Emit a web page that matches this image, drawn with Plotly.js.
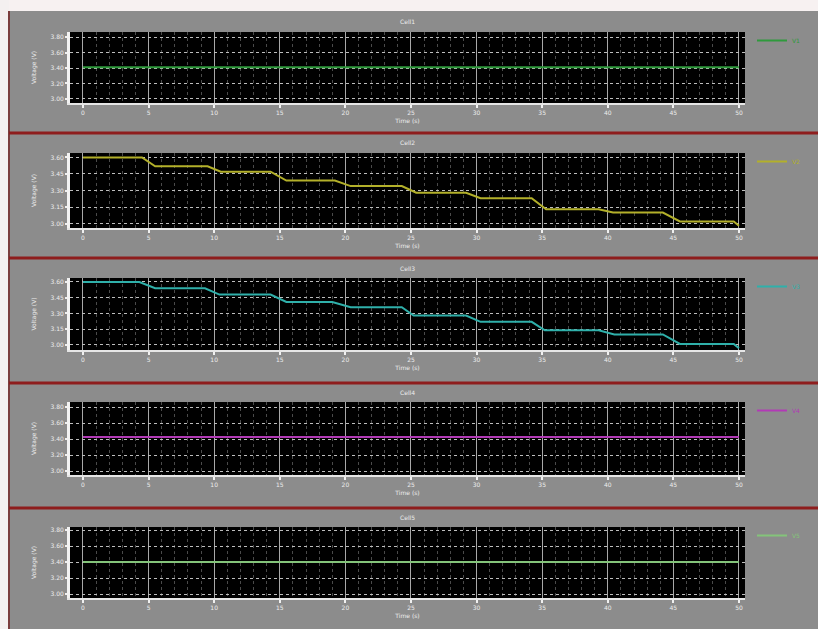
<!DOCTYPE html>
<html>
<head>
<meta charset="utf-8">
<script src="https://cdn.plot.ly/plotly-3.0.1.min.js"></script>
<style>html,body{margin:0;padding:0;background:#fff;}#chart{width:818px;height:629px;}</style>
</head>
<body>
<div id="chart"></div>
<script>
// ---- data ----
const panelTitles = ["Cell1", "Cell2", "Cell3", "Cell4", "Cell5"];
const seriesNames = ["V1", "V2", "V3", "V4", "V5"];
const xTickVals = [0, 5, 10, 15, 20, 25, 30, 35, 40, 45, 50];
const yTickVals = [3.0, 3.2, 3.4, 3.6, 3.8];
const yTickVals23 = [3.0, 3.15, 3.3, 3.45, 3.6];

const time1 = [0, 50];
const volt1 = [3.41, 3.41];

const time2 = [0, 4.5, 5.5, 9.5, 10.5, 14.3, 15.5, 19.2, 20.4, 24.3, 25.4, 29.2, 30.3, 34.2, 35.3, 39.3, 40.4, 44.2, 45.5, 49.6, 50];
const volt2 = [3.60, 3.60, 3.52, 3.52, 3.47, 3.47, 3.39, 3.39, 3.34, 3.34, 3.28, 3.28, 3.23, 3.23, 3.13, 3.13, 3.10, 3.10, 3.02, 3.02, 2.98];

const time3 = [0, 4.3, 5.5, 9.3, 10.4, 14.3, 15.5, 19.0, 20.4, 24.3, 25.2, 29.2, 30.3, 34.2, 35.2, 39.3, 40.5, 44.2, 45.5, 49.6, 50];
const volt3 = [3.60, 3.60, 3.54, 3.54, 3.48, 3.48, 3.41, 3.41, 3.36, 3.36, 3.28, 3.28, 3.22, 3.22, 3.14, 3.14, 3.10, 3.10, 3.01, 3.01, 2.97];

const time4 = [0, 50];
const volt4 = [3.425, 3.425];

const time5 = [0, 50];
const volt5 = [3.40, 3.40];

// ---- styling ----
const W = 818, H = 629;
const colors = ["#2f9a3c", "#b3b02a", "#2fb0aa", "#b23ab6", "#84c47a"];
const plotPx = [[32, 103], [153, 228], [278, 350], [402, 475], [527, 598]];
const yRanges = [[2.948, 3.865], [2.96, 3.64], [2.952, 3.638], [2.95, 3.8625], [2.95, 3.8375]];
const yTicks = [yTickVals, yTickVals23, yTickVals23, yTickVals, yTickVals];
const times = [time1, time2, time3, time4, time5];
const volts = [volt1, volt2, volt3, volt4, volt5];
const sepPx = [133, 258, 383, 508];

const fontSmall = {family: "DejaVu Sans", size: 6, color: "#ececec"};
const xDom = [70 / W, 745 / W];

const data = [];
const layout = {
  width: W, height: H,
  margin: {l: 0, r: 0, t: 0, b: 0},
  paper_bgcolor: "#8c8c8c",
  plot_bgcolor: "#000000",
  showlegend: true,
  shapes: [],
  annotations: [],
  font: fontSmall
};

for (let i = 0; i < 5; i++) {
  const n = i === 0 ? "" : String(i + 1);
  const dom = [1 - plotPx[i][1] / H, 1 - plotPx[i][0] / H];
  data.push({
    type: "scatter", mode: "lines",
    x: times[i], y: volts[i],
    name: seriesNames[i],
    xaxis: "x" + n, yaxis: "y" + n,
    legend: "legend" + n,
    line: {color: colors[i], width: 2}
  });
  layout["xaxis" + n] = {
    domain: xDom, anchor: "y" + n,
    range: [-0.99, 50.46],
    tickvals: xTickVals,
    tickfont: fontSmall,
    ticks: "outside", ticklen: 3, tickcolor: "#f0f0f0", tickwidth: 2,
    showline: true, linecolor: "#e6e6e6", linewidth: 2,
    showgrid: true, gridcolor: "#a8a8a8", gridwidth: 1,
    minor: {dtick: 1, showgrid: true, gridcolor: "#4a4a4a", griddash: "dot", gridwidth: 1},
    zeroline: false,
    title: {text: "Time (s)", font: fontSmall, standoff: 4}
  };
  layout["yaxis" + n] = {
    domain: dom, anchor: "x" + n,
    range: yRanges[i],
    tickvals: yTicks[i],
    tickformat: ".2f",
    tickfont: fontSmall,
    ticks: "outside", ticklen: 2, tickcolor: "#f0f0f0", tickwidth: 2,
    showline: true, linecolor: "#f2f2f2", linewidth: 3,
    showgrid: true, gridcolor: "#bdbdbd", griddash: "dot", gridwidth: 1,
    zeroline: false,
    title: {text: "Voltage (V)", font: fontSmall, standoff: 14}
  };
  layout["legend" + n] = {
    x: 752 / W, xanchor: "left",
    y: dom[1] + 6 / H, yanchor: "top",
    bgcolor: "rgba(0,0,0,0)",
    font: {family: "DejaVu Sans", size: 6, color: colors[i]},
    itemwidth: 30
  };
  layout.annotations.push({
    xref: "paper", yref: "paper",
    x: (xDom[0] + xDom[1]) / 2, y: dom[1] + 10 / H,
    text: panelTitles[i], showarrow: false,
    font: fontSmall, xanchor: "center", yanchor: "middle"
  });
}

// white page margins and red separators
layout.shapes.push({type: "rect", xref: "paper", yref: "paper", x0: 0, x1: 1, y0: 1 - 11 / H, y1: 1, fillcolor: "#f7f1f1", line: {width: 0}});
layout.shapes.push({type: "rect", xref: "paper", yref: "paper", x0: 0, x1: 9 / W, y0: 0, y1: 1, fillcolor: "#f4f0f0", line: {width: 0}});
layout.shapes.push({type: "line", xref: "paper", yref: "paper", x0: 9 / W, x1: 9 / W, y0: 0, y1: 1 - 11 / H, line: {color: "#7a3d3d", width: 2}});
sepPx.forEach(p => {
  layout.shapes.push({type: "line", xref: "paper", yref: "paper", x0: 9 / W, x1: 1, y0: 1 - p / H, y1: 1 - p / H, line: {color: "#8e1d1d", width: 3}});
});

Plotly.newPlot("chart", data, layout, {displayModeBar: false, staticPlot: true});
</script>
</body>
</html>
